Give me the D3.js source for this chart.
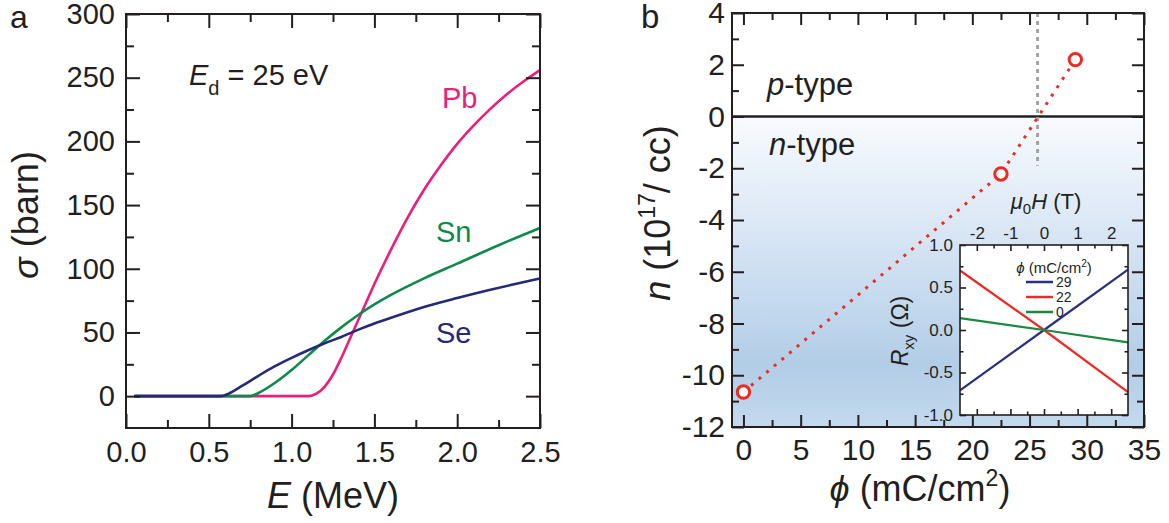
<!DOCTYPE html>
<html>
<head>
<meta charset="utf-8">
<script src="https://cdn.jsdelivr.net/npm/d3@7"></script>
<style>
  body { margin: 0; background: #fff; }
  svg { display: block; }
</style>
</head>
<body>
<div id="chart"></div>
<script>
// panel a: displacement cross sections, sigma (barn) vs E (MeV)
const E_PB = [0.05, 1.10, 1.15, 1.20, 1.25, 1.30, 1.35, 1.40, 1.45, 1.50, 1.60, 1.70, 1.80, 1.90, 2.00, 2.10, 2.20, 2.30, 2.40, 2.50];
const SIG_PB = [0, 0, 2, 7.5, 17, 30, 44.5, 59, 73.5, 88, 115, 140, 162, 181, 198, 212.5, 225.5, 237, 247, 256];
const E_SN = [0.05, 0.75, 0.80, 0.90, 1.00, 1.10, 1.20, 1.30, 1.40, 1.50, 1.60, 1.80, 2.00, 2.25, 2.50];
const SIG_SN = [0, 0, 2.5, 10.5, 20.5, 32, 43.5, 54, 63.5, 72, 79.5, 92.5, 104, 118.5, 132];
const E_SE = [0.05, 0.57, 0.62, 0.70, 0.80, 0.90, 1.00, 1.10, 1.20, 1.30, 1.40, 1.50, 1.60, 1.80, 2.00, 2.20, 2.35, 2.50];
const SIG_SE = [0, 0, 2, 8, 16, 23.5, 30, 36, 41.5, 46.5, 52, 57, 61.5, 70, 77, 83.5, 88, 92.4];

const A_XMAJOR = [0, 0.5, 1.0, 1.5, 2.0, 2.5];
const A_XMINOR = [0.25, 0.75, 1.25, 1.75, 2.25];
const A_YMAJOR = [0, 50, 100, 150, 200, 250, 300];
const A_YMINOR = [25, 75, 125, 175, 225, 275];

// panel b: carrier density n (1e17/cc) vs phi (mC/cm2)
const PHI = [0, 22.5, 29];
const N_CARRIER = [-10.65, -2.22, 2.2];
const PHI_CROSS = 25.7;
const N_CROSS_END = -1.9;

const B_XMAJOR = [0, 5, 10, 15, 20, 25, 30, 35];
const B_XMINOR = [2.5, 7.5, 12.5, 17.5, 22.5, 27.5, 32.5];
const B_YMAJOR = [-12, -10, -8, -6, -4, -2, 0, 2, 4];
const B_YMINOR = [-11, -9, -7, -5, -3, -1, 1, 3];

// inset: Hall resistance Rxy (ohm) vs mu0 H (T)
const H_FIELD = [-2.5, 0, 2.5];
const RXY_29 = [-0.71, 0, 0.71];
const RXY_22 = [0.70, 0, -0.73];
const RXY_0 = [0.14, 0, -0.145];
const INSET_SERIES = ["29", "22", "0"];

const I_XMAJOR = [-2, -1, 0, 1, 2];
const I_XMINOR = [-1.5, -0.5, 0.5, 1.5];
const I_YMAJOR = [-1.0, -0.5, 0.0, 0.5, 1.0];
const I_YMINOR = [-0.75, -0.25, 0.25, 0.75];

const ink = "#231f20";
const font = "'Liberation Sans', Arial, sans-serif";

const svg = d3.select("#chart").append("svg")
    .attr("width", 1169).attr("height", 523)
    .attr("font-family", font).attr("fill", ink);

const dash = s => String(s).replace("\u2212", "-");

// draws one axis with inward ticks
function ax(g, gen, scale, tr, values, size, fmt, pad, fs, sw) {
    const a = gen(scale).tickValues(values).tickSizeInner(-size).tickSizeOuter(0)
        .tickPadding(pad).tickFormat(fmt || "");
    const s = g.append("g").attr("transform", tr).call(a);
    s.select(".domain").remove();
    s.selectAll("line").attr("stroke", ink).attr("stroke-width", sw || 2);
    s.selectAll("text").attr("font-size", fs).attr("fill", ink).attr("font-family", font);
    return s;
}

function frame(g, x, y, o) {
    const [x0, x1] = x.range(), [y0, y1] = y.range();
    ax(g, d3.axisBottom, x, `translate(0,${y0})`, o.xMajor, o.major, o.xFmt, o.xPad, o.fs, o.sw);
    ax(g, d3.axisBottom, x, `translate(0,${y0})`, o.xMinor, o.minor, null, 0, 0, o.sw);
    ax(g, d3.axisTop, x, `translate(0,${y1})`, o.xMajor, o.major, o.topFmt, o.topPad || 0, o.fs, o.sw);
    ax(g, d3.axisTop, x, `translate(0,${y1})`, o.xMinor, o.minor, null, 0, 0, o.sw);
    ax(g, d3.axisLeft, y, `translate(${x0},0)`, o.yMajor, o.major, o.yFmt, o.yPad, o.fs, o.sw);
    ax(g, d3.axisLeft, y, `translate(${x0},0)`, o.yMinor, o.minor, null, 0, 0, o.sw);
    ax(g, d3.axisRight, y, `translate(${x1},0)`, o.yMajor, o.major, null, 0, 0, o.sw);
    ax(g, d3.axisRight, y, `translate(${x1},0)`, o.yMinor, o.minor, null, 0, 0, o.sw);
    g.append("rect").attr("x", x0).attr("y", y1).attr("width", x1 - x0).attr("height", y0 - y1)
        .attr("fill", "none").attr("stroke", ink).attr("stroke-width", o.sw || 2);
}

// ---------- panel a ----------
const ga = svg.append("g");
const xa = d3.scaleLinear().domain([0, 2.5]).range([126, 540]);
const ya = d3.scaleLinear().domain([-25, 300]).range([428, 14]);

const lineA = d3.line().x(d => xa(d[0])).y(d => ya(d[1])).curve(d3.curveMonotoneX);
const seriesA = [
    {name: "Pb", e: E_PB, s: SIG_PB, color: "#ec1e79", lx: 442, ly: 108},
    {name: "Sn", e: E_SN, s: SIG_SN, color: "#0e8a4b", lx: 436, ly: 242},
    {name: "Se", e: E_SE, s: SIG_SE, color: "#252a78", lx: 436, ly: 343}
];
seriesA.forEach(function(d) {
    ga.append("path")
        .datum(d.e.map((e, i) => [e, d.s[i]]))
        .attr("d", lineA)
        .attr("fill", "none")
        .attr("stroke", d.color)
        .attr("stroke-width", 2.6);
    ga.append("text").attr("x", d.lx).attr("y", d.ly)
        .attr("font-size", 29).attr("fill", d.color).text(d.name);
});

frame(ga, xa, ya, {
    xMajor: A_XMAJOR, xMinor: A_XMINOR, yMajor: A_YMAJOR, yMinor: A_YMINOR,
    major: 14, minor: 8, fs: 29, xPad: 13, yPad: 11,
    xFmt: d3.format(".1f"), yFmt: d3.format("d")
});

const ed = ga.append("text").attr("x", 189).attr("y", 85).attr("font-size", 29);
ed.append("tspan").attr("font-style", "italic").text("E");
ed.append("tspan").attr("font-size", 20).attr("dy", 10).text("d");
ed.append("tspan").attr("dy", -10).text(" = 25 eV");

ga.append("text").attr("x", 10).attr("y", 28).attr("font-size", 32).text("a");

const xta = ga.append("text").attr("x", 333).attr("y", 508)
    .attr("text-anchor", "middle").attr("font-size", 36);
xta.append("tspan").attr("font-style", "italic").text("E");
xta.append("tspan").text(" (MeV)");

const yta = ga.append("text").attr("transform", "translate(38,215) rotate(-90)")
    .attr("text-anchor", "middle").attr("font-size", 36);
yta.append("tspan").attr("font-style", "italic").text("σ");
yta.append("tspan").text(" (barn)");

// ---------- panel b ----------
const gb = svg.append("g");
const xb = d3.scaleLinear().domain([-1, 35]).range([732, 1144]);
const yb = d3.scaleLinear().domain([-12, 4]).range([427, 13]);

const defs = svg.append("defs");
const grad = defs.append("linearGradient").attr("id", "ntype")
    .attr("x1", 0).attr("y1", 0).attr("x2", 0).attr("y2", 1);
[[0, "#f8fbfe"], [0.3, "#dfeaf6"], [0.6, "#c4d9ee"], [0.8, "#b2cde6"], [1, "#c3d9ee"]]
    .forEach(s => grad.append("stop").attr("offset", s[0]).attr("stop-color", s[1]));

gb.append("rect")
    .attr("x", xb(-1)).attr("y", yb(0))
    .attr("width", xb(35) - xb(-1)).attr("height", yb(-12) - yb(0))
    .attr("fill", "url(#ntype)");

gb.append("line")
    .attr("x1", xb(-1)).attr("x2", xb(35)).attr("y1", yb(0)).attr("y2", yb(0))
    .attr("stroke", ink).attr("stroke-width", 2.5);

gb.append("line")
    .attr("x1", xb(PHI_CROSS)).attr("x2", xb(PHI_CROSS))
    .attr("y1", yb(4)).attr("y2", yb(N_CROSS_END))
    .attr("stroke", "#a3a3a3").attr("stroke-width", 3).attr("stroke-dasharray", "4,4");

gb.append("text").attr("x", 767).attr("y", 95).attr("font-size", 31)
    .call(t => { t.append("tspan").attr("font-style", "italic").text("p"); t.append("tspan").text("-type"); });
gb.append("text").attr("x", 769).attr("y", 155).attr("font-size", 31)
    .call(t => { t.append("tspan").attr("font-style", "italic").text("n"); t.append("tspan").text("-type"); });

// inset
const gi = gb.append("g");
const xi = d3.scaleLinear().domain([-2.5, 2.5]).range([960, 1128]);
const yi = d3.scaleLinear().domain([-1, 1]).range([415, 245]);
gi.append("rect").attr("x", 960).attr("y", 245).attr("width", 168).attr("height", 170).attr("fill", "#fff");

const insetData = [
    {name: "29", v: RXY_29, color: "#2b2f7f"},
    {name: "22", v: RXY_22, color: "#ee2a24"},
    {name: "0", v: RXY_0, color: "#1a8a3e"}
];
const lineI = d3.line().x(d => xi(d[0])).y(d => yi(d[1]));
insetData.forEach(function(d) {
    gi.append("path")
        .datum(H_FIELD.map((h, i) => [h, d.v[i]]))
        .attr("d", lineI).attr("fill", "none")
        .attr("stroke", d.color).attr("stroke-width", 2.2);
});

frame(gi, xi, yi, {
    xMajor: I_XMAJOR, xMinor: I_XMINOR, yMajor: I_YMAJOR, yMinor: I_YMINOR,
    major: 6, minor: 3.5, fs: 17, xPad: 0, yPad: 7, topPad: 6, sw: 1.6,
    xFmt: null, topFmt: d => dash(d), yFmt: d => dash(d3.format(".1f")(d))
});

// inset legend
const leg = gi.append("g");
const lt = leg.append("text").attr("x", 1054).attr("y", 273).attr("text-anchor", "middle").attr("font-size", 15);
lt.append("tspan").attr("font-style", "italic").text("ϕ");
lt.append("tspan").text(" (mC/cm");
lt.append("tspan").attr("font-size", 10).attr("dy", -6).text("2");
lt.append("tspan").attr("dy", 6).text(")");
insetData.forEach(function(d, i) {
    const yy = 282 + i * 15;
    leg.append("line").attr("x1", 1026).attr("x2", 1053).attr("y1", yy).attr("y2", yy)
        .attr("stroke", d.color).attr("stroke-width", 2.5);
    leg.append("text").attr("x", 1056).attr("y", yy + 5).attr("font-size", 14).text(INSET_SERIES[i]);
});

const ht = gi.append("text").attr("x", 1046).attr("y", 209).attr("text-anchor", "middle").attr("font-size", 22);
ht.append("tspan").attr("font-style", "italic").text("μ");
ht.append("tspan").attr("font-size", 15).attr("dy", 5).text("0");
ht.append("tspan").attr("font-style", "italic").attr("dy", -5).text("H");
ht.append("tspan").text(" (T)");

const rt = gi.append("text").attr("transform", "translate(908,331) rotate(-90)")
    .attr("text-anchor", "middle").attr("font-size", 23);
rt.append("tspan").attr("font-style", "italic").text("R");
rt.append("tspan").attr("font-size", 15).attr("dy", 6).text("xy");
rt.append("tspan").attr("dy", -6).text("  (Ω)");

// carrier density points
const lineB = d3.line().x(d => xb(d[0])).y(d => yb(d[1]));
const pts = PHI.map((p, i) => [p, N_CARRIER[i]]);
gb.append("path").datum(pts).attr("d", lineB)
    .attr("fill", "none").attr("stroke", "#ee2a24").attr("stroke-width", 3)
    .attr("stroke-dasharray", "3,7");
gb.selectAll("circle.pt").data(pts).enter().append("circle")
    .attr("class", "pt")
    .attr("cx", d => xb(d[0])).attr("cy", d => yb(d[1])).attr("r", 6.2)
    .attr("fill", "#fff").attr("stroke", "#ee2a24").attr("stroke-width", 3);

frame(gb, xb, yb, {
    xMajor: B_XMAJOR, xMinor: B_XMINOR, yMajor: B_YMAJOR, yMinor: B_YMINOR,
    major: 12, minor: 7, fs: 30, xPad: 12, yPad: 7,
    xFmt: d3.format("d"), yFmt: d => dash(d)
});

gb.append("text").attr("x", 641).attr("y", 28).attr("font-size", 33).text("b");

const xtb = gb.append("text").attr("x", 920).attr("y", 501)
    .attr("text-anchor", "middle").attr("font-size", 36);
xtb.append("tspan").attr("font-style", "italic").text("ϕ");
xtb.append("tspan").text(" (mC/cm");
xtb.append("tspan").attr("font-size", 23).attr("dy", -15).text("2");
xtb.append("tspan").attr("dy", 15).text(")");

const ytb = gb.append("text").attr("transform", "translate(670,213) rotate(-90)")
    .attr("text-anchor", "middle").attr("font-size", 36);
ytb.append("tspan").attr("font-style", "italic").text("n");
ytb.append("tspan").text(" (10");
ytb.append("tspan").attr("font-size", 23).attr("dy", -15).text("17");
ytb.append("tspan").attr("dy", 15).text("/ cc)");
</script>
</body>
</html>
